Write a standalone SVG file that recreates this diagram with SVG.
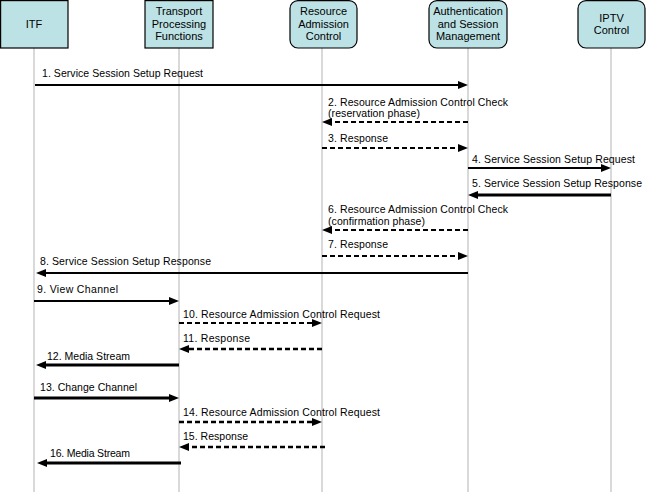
<svg xmlns="http://www.w3.org/2000/svg" width="649" height="494" viewBox="0 0 649 494">
<style>
  .box { fill: #bde2e5; stroke: #000; stroke-width: 1.2; }
  .bt { font-family: "Liberation Sans", Arial, sans-serif; font-size: 11px; text-anchor: middle; fill: #000; }
  .life { stroke: #c0c0c0; stroke-width: 1.2; fill: none; }
  .m { font-family: "Liberation Sans", Arial, sans-serif; font-size: 10.5px; fill: #000; }
  .s { stroke: #000; stroke-width: 2; fill: none; marker-end: url(#ah); }
  .s3 { stroke: #000; stroke-width: 3; fill: none; marker-end: url(#ah); }
  .d { stroke: #000; stroke-width: 2; stroke-dasharray: 5 3; fill: none; marker-end: url(#ah); }
  .d3 { stroke: #000; stroke-width: 2.5; stroke-dasharray: 5 3; fill: none; marker-end: url(#ah); }
</style>
<defs>
  <marker id="ah" markerUnits="userSpaceOnUse" markerWidth="10" markerHeight="8" refX="5" refY="4" orient="auto" overflow="visible">
    <path d="M0,0 L10,4 L0,8 Z" fill="#000"/>
  </marker>
</defs>
<rect width="649" height="494" fill="#fff"/>

<g id="lifelines">
  <line class="life" x1="34" y1="48" x2="34" y2="492"/>
  <line class="life" x1="179" y1="48" x2="179" y2="492"/>
  <line class="life" x1="322" y1="48" x2="322" y2="492"/>
  <line class="life" x1="468" y1="48" x2="468" y2="492"/>
  <line class="life" x1="611" y1="48" x2="611" y2="492"/>
</g>

<g id="itf">
  <rect class="box" x="0.6" y="0.6" width="67.4" height="47.4"/>
  <text class="bt" x="34" y="28">ITF</text>
</g>
<g id="tpf">
  <rect class="box" x="145" y="0.6" width="68" height="47.4"/>
  <text class="bt" x="179" y="15">Transport</text>
  <text class="bt" x="179" y="27.5">Processing</text>
  <text class="bt" x="179" y="40">Functions</text>
</g>
<g id="rac">
  <rect class="box" x="290" y="0.6" width="67" height="47.4" rx="8"/>
  <text class="bt" x="323.5" y="15">Resource</text>
  <text class="bt" x="323.5" y="27.5">Admission</text>
  <text class="bt" x="323.5" y="40">Control</text>
</g>
<g id="asm">
  <rect class="box" x="429" y="0.6" width="78" height="47.4" rx="8"/>
  <text class="bt" x="468" y="15">Authentication</text>
  <text class="bt" x="468" y="27.5">and Session</text>
  <text class="bt" x="468" y="40">Management</text>
</g>
<g id="iptv">
  <rect class="box" x="578" y="0.6" width="67" height="47.4" rx="8"/>
  <text class="bt" x="611.5" y="21.5">IPTV</text>
  <text class="bt" x="611.5" y="34">Control</text>
</g>

<g id="connectors">
  <line class="s" x1="35" y1="85" x2="463" y2="85"/>
  <line class="d" x1="468" y1="122" x2="327" y2="122"/>
  <line class="d" x1="322" y1="148" x2="463" y2="148"/>
  <line class="s" x1="468" y1="168" x2="606" y2="168"/>
  <line class="s3" x1="611" y1="195" x2="473" y2="195"/>
  <line class="d" x1="468" y1="230" x2="327" y2="230"/>
  <line class="d" x1="322" y1="256" x2="463" y2="256"/>
  <line class="s" x1="468" y1="273" x2="41" y2="273"/>
  <line class="s" x1="34" y1="301" x2="174" y2="301"/>
  <line class="d" x1="179" y1="323" x2="317" y2="323"/>
  <line class="d3" x1="322" y1="349" x2="184" y2="349"/>
  <line class="s3" x1="179" y1="365" x2="41" y2="365"/>
  <line class="s3" x1="34" y1="398" x2="174" y2="398"/>
  <line class="d3" x1="179" y1="422" x2="317" y2="422"/>
  <line class="d3" x1="325" y1="447" x2="184" y2="447"/>
  <line class="s3" x1="181" y1="463" x2="42" y2="463"/>
</g>

<g id="labels">
  <text class="m" x="42" y="77" textLength="161" lengthAdjust="spacing">1. Service Session Setup Request</text>
  <text class="m" x="328" y="106" textLength="180" lengthAdjust="spacing">2. Resource Admission Control Check</text>
  <text class="m" x="328" y="117" textLength="92" lengthAdjust="spacing">(reservation phase)</text>
  <text class="m" x="328" y="142" textLength="60" lengthAdjust="spacing">3. Response</text>
  <text class="m" x="472" y="163" textLength="163" lengthAdjust="spacing">4. Service Session Setup Request</text>
  <text class="m" x="472" y="187" textLength="170" lengthAdjust="spacing">5. Service Session Setup Response</text>
  <text class="m" x="328" y="213" textLength="180" lengthAdjust="spacing">6. Resource Admission Control Check</text>
  <text class="m" x="328" y="225" textLength="97" lengthAdjust="spacing">(confirmation phase)</text>
  <text class="m" x="328" y="248" textLength="60" lengthAdjust="spacing">7. Response</text>
  <text class="m" x="40" y="265" textLength="171" lengthAdjust="spacing">8. Service Session Setup Response</text>
  <text class="m" x="37" y="293" textLength="81" lengthAdjust="spacing">9. View Channel</text>
  <text class="m" x="183" y="318" textLength="197" lengthAdjust="spacing">10. Resource Admission Control Request</text>
  <text class="m" x="183" y="342" textLength="67" lengthAdjust="spacing">11. Response</text>
  <text class="m" x="47" y="360" textLength="83" lengthAdjust="spacing">12. Media Stream</text>
  <text class="m" x="40" y="391" textLength="97" lengthAdjust="spacing">13. Change Channel</text>
  <text class="m" x="183" y="416" textLength="197" lengthAdjust="spacing">14. Resource Admission Control Request</text>
  <text class="m" x="183" y="440" textLength="65" lengthAdjust="spacing">15. Response</text>
  <text class="m" x="50" y="457" textLength="80" lengthAdjust="spacing">16. Media Stream</text>
</g>
</svg>
